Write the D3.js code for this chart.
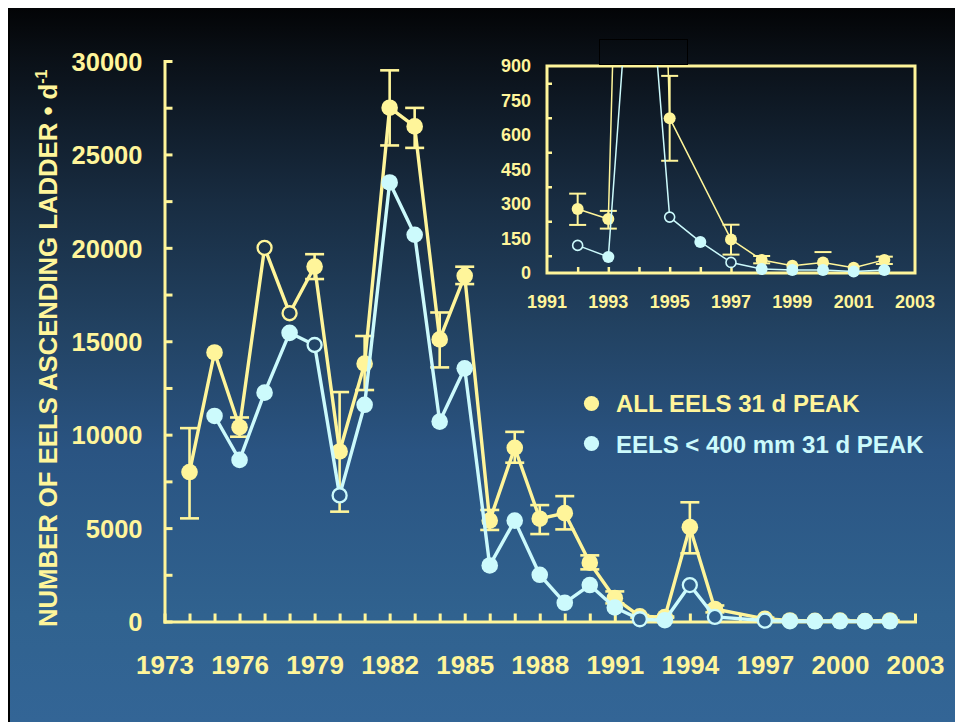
<!DOCTYPE html>
<html><head><meta charset="utf-8">
<script src="https://cdn.jsdelivr.net/npm/d3@7"></script>
<style>html,body{margin:0;padding:0;background:#fff;} svg{display:block;}</style>
</head><body>
<svg id="chart" width="955" height="722"></svg>
<script>
// ---------- DATA ----------
const years     = [1974,1975,1976,1977,1978,1979,1980,1981,1982,1983,1984,1985,1986,1987,1988,1989,1990,1991,1992,1993,1994,1995,1996,1997,1998,1999,2000,2001,2002];
const allEels   = [8000,14400,10400,20000,16500,19000,9100,13800,27500,26500,15100,18500,5400,9300,5500,5800,3150,1250,280,235,5050,670,null,145,57,32,46,23,57];
const allLow    = [5520,null,9890,null,null,18330,5880,12390,25480,25350,13600,18060,4900,8500,4680,4930,2790,970,209,193,3650,488,null,80,42,null,null,null,39];
const allHigh   = [10350,null,10920,null,null,19660,12280,15280,29500,27490,16540,18990,5970,10150,6230,6710,3540,1610,345,270,6380,857,null,210,74,null,91,null,71];
const smallEels = [null,11000,8650,12250,15450,14800,6750,11600,23500,20700,10700,13550,3000,5400,2500,1000,1950,750,120,70,1950,245,null,46,17,13,13,6,13];
const allOpenYears   = [1977,1978];
const smallOpenYears = [1979,1980,1992,1994,1995,1997];

const insetYears = [1992,1993,1994,1995,1996,1997,1998,1999,2000,2001,2002];
const insetAll   = [278,235,5050,673,null,146,57,32,46,23,57];
const insetLow   = [209,193,null,488,null,80,42,null,null,null,39];
const insetHigh  = [345,270,null,857,null,210,74,null,91,null,71];
const insetSmall = [120,70,1900,243,135,46,17,13,13,6,13];
const insetSmallOpenYears = [1992,1994,1995,1997];

const xTickLabels = [1973,1976,1979,1982,1985,1988,1991,1994,1997,2000,2003];
const yTickLabels = [0,5000,10000,15000,20000,25000,30000];
const insetXLabels = [1991,1993,1995,1997,1999,2001,2003];
const insetYLabels = [0,150,300,450,600,750,900];
const legendLabels = ["ALL EELS 31 d PEAK", "EELS < 400 mm 31 d PEAK"];
const yTitle = "NUMBER OF EELS ASCENDING LADDER \u2022 d";

// ---------- STYLE ----------
const YEL = "#FFF59A", CYA = "#CCFAFC";
const FONT = "'Liberation Sans', Arial, Helvetica, sans-serif";

const svg = d3.select("#chart");
const defs = svg.append("defs");
const grad = defs.append("linearGradient").attr("id","bg")
  .attr("gradientUnits","userSpaceOnUse").attr("x1",0).attr("y1",8).attr("x2",0).attr("y2",722);
[[0,"#030406"],[0.07,"#0a1017"],[0.27,"#182c41"],[0.45,"#224262"],[0.62,"#2a5482"],[0.85,"#30628f"],[1,"#336596"]]
  .forEach(s => grad.append("stop").attr("offset",s[0]).attr("stop-color",s[1]));

svg.append("rect").attr("width",955).attr("height",722).attr("fill","#fff");
svg.append("rect").attr("x",8).attr("y",8).attr("width",947).attr("height",714).attr("fill","url(#bg)");
svg.append("line").attr("x1",9).attr("x2",9).attr("y1",8).attr("y2",722).attr("stroke","#000").attr("stroke-width",2);

// ---------- MAIN CHART ----------
const x = d3.scaleLinear().domain([1973,2003]).range([164.5,915]);
const y = d3.scaleLinear().domain([0,30000]).range([621.5,61]);

const yAxis = d3.axisLeft(y).tickValues(d3.range(0,30001,2500))
  .tickFormat(d => yTickLabels.includes(d) ? d : "").tickSizeInner(-8).tickSizeOuter(0).tickPadding(22);
const gy = svg.append("g").attr("transform",`translate(${x(1973)},0)`).call(yAxis);
const xAxis = d3.axisBottom(x).tickValues(d3.range(1973,2004,1))
  .tickFormat(d => xTickLabels.includes(d) ? d : "").tickSizeInner(-8).tickSizeOuter(0).tickPadding(0);
const gx = svg.append("g").attr("transform",`translate(0,${y(0)})`).call(xAxis);
[gx,gy].forEach(g => {
  g.select(".domain").attr("stroke",YEL).attr("stroke-width",3).attr("stroke-linecap","square");
  g.selectAll(".tick line").attr("stroke",YEL).attr("stroke-width",3);
  g.selectAll("text").attr("fill",YEL).attr("font-family",FONT).attr("font-weight","bold");
});
gy.selectAll("text").attr("font-size",25.5).attr("dy","0.36em");
gx.selectAll("text").attr("font-size",26).attr("dy",0).attr("y",52.5);

// axis title
const title = svg.append("text").attr("transform","translate(57,627) rotate(-90)")
  .attr("fill",YEL).attr("font-family",FONT).attr("font-weight","bold").attr("font-size",25.7);
title.append("tspan").text(yTitle);
title.append("tspan").attr("font-size",16).attr("dy",-10).text("-1");

function series(g, xs, vals, sx, sy, opts) {
  const pts = xs.map((yr,i)=>({yr, v: vals[i]})).filter(d => d.v != null);
  const line = d3.line().x(d=>sx(d.yr)).y(d=>sy(d.v));
  g.append("path").datum(pts).attr("d",line).attr("fill","none")
    .attr("stroke",opts.color).attr("stroke-width",opts.lw).attr("stroke-linejoin","round")
    .attr("clip-path", opts.clip || null);
  return pts;
}
function errorBars(g, xs, lo, hi, sx, sy, color, lw, cap) {
  const e = xs.map((yr,i)=>({yr, lo: lo[i], hi: hi[i]})).filter(d => d.lo != null || d.hi != null);
  e.forEach(d => {
    const top = d.hi != null ? d.hi : d.lo, bot = d.lo != null ? d.lo : d.hi;
    g.append("line").attr("x1",sx(d.yr)).attr("x2",sx(d.yr)).attr("y1",sy(top)).attr("y2",sy(bot))
      .attr("stroke",color).attr("stroke-width",lw);
    [d.lo,d.hi].filter(v=>v!=null).forEach(v => g.append("line")
      .attr("x1",sx(d.yr)-cap/2).attr("x2",sx(d.yr)+cap/2).attr("y1",sy(v)).attr("y2",sy(v))
      .attr("stroke",color).attr("stroke-width",lw));
  });
}
function markers(g, pts, sx, sy, color, openYears, r, ro, sw, maxV) {
  g.selectAll(null).data(pts.filter(d => maxV == null || d.v <= maxV)).enter().append("circle")
    .attr("cx",d=>sx(d.yr)).attr("cy",d=>sy(d.v))
    .attr("r",d=>openYears.includes(d.yr) ? ro : r)
    .attr("fill",d=>openYears.includes(d.yr) ? "url(#bg)" : color)
    .attr("stroke",d=>openYears.includes(d.yr) ? color : "none")
    .attr("stroke-width",sw);
}

const gm = svg.append("g");
const pAll = series(gm, years, allEels, x, y, {color:YEL, lw:3.4});
errorBars(gm, years, allLow, allHigh, x, y, YEL, 2.6, 19);
markers(gm, pAll, x, y, YEL, allOpenYears, 8.3, 7, 2.3);
const pSmall = series(gm, years, smallEels, x, y, {color:CYA, lw:3.4});
markers(gm, pSmall, x, y, CYA, smallOpenYears, 8.3, 7, 2.3);

// legend
const leg = svg.append("g");
legendLabels.forEach((t,i) => {
  const c = i === 0 ? YEL : CYA;
  leg.append("circle").attr("cx",591.5).attr("cy",403.5 + i*40).attr("r",7.6).attr("fill",c);
  leg.append("text").attr("x",616).attr("y",411.7 + i*41).attr("fill",c)
    .attr("font-family",FONT).attr("font-weight","bold").attr("font-size",24).text(t);
});

// ---------- INSET ----------
const ix = d3.scaleLinear().domain([1991,2003]).range([547,915]);
const iy = d3.scaleLinear().domain([0,900]).range([273,66]);
defs.append("clipPath").attr("id","insetClip").append("rect")
  .attr("x",ix(1991)).attr("y",iy(900)).attr("width",ix(2003)-ix(1991)).attr("height",iy(0)-iy(900));

const gi = svg.append("g");
gi.append("rect").attr("x",ix(1991)).attr("y",iy(900)).attr("width",ix(2003)-ix(1991)).attr("height",iy(0)-iy(900))
  .attr("fill","none").attr("stroke",YEL).attr("stroke-width",3);
const iyAxis = d3.axisLeft(iy).tickValues(d3.range(75,900,150)).tickFormat("").tickSizeInner(-5).tickSizeOuter(0);
const gyi = gi.append("g").attr("transform",`translate(${ix(1991)},0)`).call(iyAxis);
const ixAxis = d3.axisBottom(ix).tickValues(d3.range(1992,2003,1)).tickFormat("").tickSizeInner(-6).tickSizeOuter(0);
const gxi = gi.append("g").attr("transform",`translate(0,${iy(0)})`).call(ixAxis);
[gyi,gxi].forEach(g => { g.select(".domain").remove(); g.selectAll(".tick line").attr("stroke",YEL).attr("stroke-width",2.5); });
gi.selectAll(null).data(insetYLabels).enter().append("text")
  .attr("x",531).attr("y",d=>iy(d)).attr("dy","0.36em").attr("text-anchor","end")
  .attr("fill",YEL).attr("font-family",FONT).attr("font-weight","bold").attr("font-size",18).text(d=>d);
gi.selectAll(null).data(insetXLabels).enter().append("text")
  .attr("x",d=>ix(d)).attr("y",308).attr("text-anchor","middle")
  .attr("fill",YEL).attr("font-family",FONT).attr("font-weight","bold").attr("font-size",18).text(d=>d);

const ipAll = series(gi, insetYears, insetAll, ix, iy, {color:YEL, lw:1.5, clip:"url(#insetClip)"});
errorBars(gi, insetYears, insetLow, insetHigh, ix, iy, YEL, 2, 17);
markers(gi, ipAll, ix, iy, YEL, [], 6, 5, 1.6, 900);
const ipSmall = series(gi, insetYears, insetSmall, ix, iy, {color:CYA, lw:1.5, clip:"url(#insetClip)"});
markers(gi, ipSmall, ix, iy, CYA, insetSmallOpenYears, 6, 5, 1.6, 900);

// black cover box above inset
svg.append("rect").attr("x",599.5).attr("y",39.5).attr("width",88).attr("height",25)
  .attr("fill","none").attr("stroke","#000").attr("stroke-width",1);
</script>
</body></html>
